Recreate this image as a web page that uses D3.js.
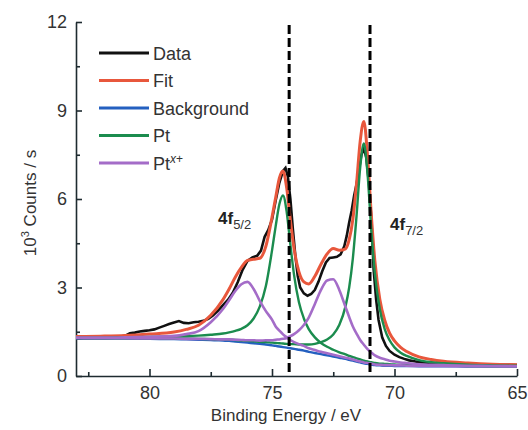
<!DOCTYPE html>
<html>
<head>
<meta charset="utf-8">
<script src="https://cdn.jsdelivr.net/npm/d3@7"></script>
<style>
  body { margin: 0; background: #fff; overflow: hidden; }
  text { font-family: "Liberation Sans", Arial, sans-serif; fill: #333; }
</style>
</head>
<body>
<script>
// Pt 4f XPS spectrum with fitted components

const margin = {top: 22, right: 11, bottom: 54, left: 76};
const outerWidth = 528;
const outerHeight = 430;

// binding energy grid (eV) shared by the fit and its components
const energy = [83, 82, 81, 80, 79, 78.5, 78, 77.5, 77, 76.75, 76.5, 76.25, 76, 75.75, 75.5, 75.25, 75,
  74.85, 74.7, 74.55, 74.4, 74.25, 74.1, 73.9, 73.7, 73.5, 73.25, 73, 72.75, 72.5, 72.25, 72,
  71.85, 71.7, 71.55, 71.4, 71.25, 71.1, 70.95, 70.8, 70.6, 70.4, 70.2, 70, 69.75, 69.5, 69,
  68.5, 68, 67, 66, 65];

// 10^3 counts/s
const background = [1.28, 1.27, 1.27, 1.26, 1.25, 1.24, 1.23, 1.22, 1.20, 1.19, 1.17, 1.15, 1.13, 1.11, 1.09, 1.07, 1.04,
  1.02, 1.00, 0.98, 0.96, 0.94, 0.92, 0.89, 0.86, 0.82, 0.78, 0.74, 0.70, 0.66, 0.62, 0.58,
  0.55, 0.52, 0.49, 0.46, 0.43, 0.41, 0.39, 0.37, 0.36, 0.35, 0.35, 0.34, 0.34, 0.34, 0.33,
  0.33, 0.33, 0.32, 0.32, 0.32];

const pt72 = [1.29, 1.28, 1.28, 1.28, 1.27, 1.27, 1.26, 1.25, 1.24, 1.23, 1.22, 1.20, 1.19, 1.18, 1.16, 1.15, 1.13,
  1.12, 1.11, 1.10, 1.09, 1.08, 1.08, 1.07, 1.07, 1.07, 1.09, 1.15, 1.24, 1.41, 1.74, 2.36,
  3.00, 3.99, 5.42, 7.07, 7.88, 6.85, 4.98, 3.47, 2.26, 1.59, 1.21, 0.97, 0.79, 0.68, 0.54,
  0.47, 0.43, 0.38, 0.36, 0.35];

const pt52 = [1.30, 1.30, 1.31, 1.32, 1.34, 1.35, 1.37, 1.40, 1.44, 1.48, 1.53, 1.60, 1.72, 1.95, 2.35, 3.05, 4.25,
  5.08, 5.82, 6.12, 5.56, 4.45, 3.43, 2.50, 1.95, 1.59, 1.31, 1.12, 0.99, 0.89, 0.80, 0.73,
  0.68, 0.64, 0.60, 0.56, 0.52, 0.49, 0.47, 0.44, 0.42, 0.41, 0.40, 0.39, 0.38, 0.38, 0.36,
  0.36, 0.35, 0.34, 0.33, 0.33];

const ptx72 = [1.29, 1.28, 1.28, 1.27, 1.27, 1.26, 1.26, 1.25, 1.24, 1.24, 1.23, 1.22, 1.21, 1.21, 1.20, 1.21, 1.21,
  1.23, 1.24, 1.26, 1.29, 1.35, 1.42, 1.55, 1.73, 1.98, 2.44, 2.92, 3.24, 3.28, 2.91, 2.34,
  2.00, 1.68, 1.44, 1.22, 1.06, 0.91, 0.80, 0.70, 0.62, 0.57, 0.52, 0.49, 0.46, 0.44, 0.40,
  0.38, 0.37, 0.35, 0.34, 0.33];

const ptx52 = [1.30, 1.30, 1.31, 1.33, 1.36, 1.42, 1.52, 1.82, 2.27, 2.57, 2.88, 3.11, 3.19, 2.95, 2.55, 2.20, 1.91,
  1.68, 1.54, 1.41, 1.31, 1.22, 1.15, 1.08, 1.02, 0.94, 0.88, 0.82, 0.77, 0.72, 0.67, 0.62,
  0.59, 0.56, 0.52, 0.49, 0.46, 0.44, 0.42, 0.39, 0.38, 0.37, 0.37, 0.36, 0.36, 0.35, 0.34,
  0.34, 0.34, 0.33, 0.33, 0.33];

const fit = [1.34, 1.35, 1.37, 1.42, 1.49, 1.58, 1.72, 2.06, 2.59, 2.95, 3.35, 3.68, 3.92, 3.96, 3.99, 4.40, 5.38,
  6.05, 6.71, 6.95, 6.37, 5.28, 4.32, 3.53, 3.19, 3.12, 3.38, 3.79, 4.14, 4.32, 4.26, 4.31,
  4.62, 5.31, 6.51, 7.96, 8.63, 7.46, 5.50, 3.89, 2.60, 1.89, 1.45, 1.19, 0.97, 0.83, 0.65,
  0.56, 0.50, 0.44, 0.40, 0.38];

// measured spectrum
const dataEnergy = [83.0, 82.6, 82.2, 81.8, 81.4, 81.0, 80.8, 80.6, 80.4, 80.2, 80.0, 79.8, 79.6, 79.4, 79.2,
  79.0, 78.8, 78.6, 78.4, 78.2, 78.0, 77.8, 77.6, 77.4, 77.2, 77.0, 76.8, 76.6, 76.4, 76.2,
  76.0, 75.8, 75.6, 75.45, 75.3, 75.15, 75.0, 74.85, 74.7, 74.55, 74.45, 74.35, 74.25, 74.15,
  74.05, 73.95, 73.85, 73.7, 73.55, 73.4, 73.25, 73.1, 72.95, 72.8, 72.65, 72.5, 72.35, 72.2,
  72.05, 71.95, 71.85, 71.75, 71.65, 71.55, 71.45, 71.35, 71.25, 71.15, 71.05, 70.95, 70.85,
  70.75, 70.65, 70.5, 70.35, 70.2, 70.0, 69.8, 69.6, 69.4, 69.2, 69.0, 68.6, 68.2, 67.8, 67.4,
  67.0, 66.5, 66.0, 65.5, 65.0];
const dataCounts = [1.27, 1.27, 1.28, 1.28, 1.30, 1.36, 1.45, 1.47, 1.51, 1.53, 1.55, 1.58, 1.64, 1.70, 1.76,
  1.81, 1.86, 1.80, 1.79, 1.82, 1.84, 1.87, 1.94, 2.06, 2.22, 2.40, 2.58, 2.82, 3.18, 3.60,
  3.90, 4.02, 4.08, 4.25, 4.72, 4.95, 5.30, 5.95, 6.55, 6.95, 7.05, 6.75, 6.00, 5.00,
  4.10, 3.40, 3.00, 2.80, 2.72, 2.78, 2.92, 3.20, 3.55, 3.85, 4.00, 4.02, 4.04, 4.12,
  4.40, 4.75, 5.20, 5.60, 6.10, 6.50, 7.00, 7.50, 7.72, 7.40, 6.60, 5.40, 3.60,
  2.60, 1.90, 1.30, 1.02, 0.85, 0.72, 0.64, 0.58, 0.53, 0.50, 0.47, 0.45, 0.43, 0.42, 0.41,
  0.40, 0.39, 0.38, 0.38, 0.37];

const xTicks = [80, 75, 70, 65];
const xMinor = [82.5, 77.5, 72.5, 67.5];
const yTicks = [0, 3, 6, 9, 12];
const yMinor = [1.5, 4.5, 7.5, 10.5];
const peakPositions = [74.3, 71.0];
const legendNames = ["Data", "Fit", "Background", "Pt", "Pt"];
const colors = {data: "#111111", fit: "#e8573c", bg: "#2460c0", pt: "#1b8c4e", ptx: "#a46cc8"};

const innerWidth = outerWidth - margin.left - margin.right;
const innerHeight = outerHeight - margin.top - margin.bottom;

const svg = d3.select("body").append("svg")
  .attr("width", outerWidth)
  .attr("height", outerHeight)
  .style("display", "block");

const g = svg.append("g")
  .attr("transform", "translate(" + margin.left + "," + margin.top + ")");

const x = d3.scaleLinear().domain([83, 65]).range([0, innerWidth]);
const y = d3.scaleLinear().domain([0, 12]).range([innerHeight, 0]);

// axes (ticks point inward)
g.append("g")
  .attr("transform", "translate(0," + innerHeight + ")")
  .call(d3.axisBottom(x).tickValues(xTicks).tickSize(-7).tickSizeOuter(0).tickPadding(10));
g.append("g")
  .attr("transform", "translate(0," + innerHeight + ")")
  .call(d3.axisBottom(x).tickValues(xMinor).tickSize(-4).tickFormat(""))
  .select(".domain").remove();

g.append("g")
  .call(d3.axisLeft(y).tickValues(yTicks).tickSize(-6).tickSizeOuter(0).tickPadding(9));
g.append("g")
  .call(d3.axisLeft(y).tickValues(yMinor).tickSize(-4).tickFormat(""))
  .select(".domain").remove();

g.selectAll(".domain, .tick line").attr("stroke", "#1e2b30").attr("stroke-width", 1.6);
g.selectAll(".tick text").style("font-size", "18px").attr("fill", "#333");

// axis titles
svg.append("text")
  .attr("x", 286).attr("y", 421)
  .attr("text-anchor", "middle")
  .style("font-size", "17px")
  .text("Binding Energy / eV");

const yTitle = svg.append("text")
  .attr("transform", "translate(36,203) rotate(-90)")
  .attr("text-anchor", "middle")
  .style("font-size", "17px");
yTitle.append("tspan").text("10");
yTitle.append("tspan").attr("dy", -7).style("font-size", "11px").text("3");
yTitle.append("tspan").attr("dy", 7).text(" Counts / s");

// curves
const smooth = vals => d3.line()
  .x((d, i) => x(energy[i]))
  .y(d => y(d))
  .curve(d3.curveMonotoneX)(vals);

const dataLine = d3.line()
  .x((d, i) => x(dataEnergy[i]))
  .y(d => y(d));

g.append("path").attr("d", dataLine(dataCounts))
  .attr("fill", "none").attr("stroke", colors.data).attr("stroke-width", 2.6);

g.append("path").attr("d", smooth(fit))
  .attr("fill", "none").attr("stroke", colors.fit).attr("stroke-width", 3);

g.append("path").attr("d", smooth(background))
  .attr("fill", "none").attr("stroke", colors.bg).attr("stroke-width", 2.4);

[pt72, pt52].forEach(vals => {
  g.append("path").attr("d", smooth(vals))
    .attr("fill", "none").attr("stroke", colors.pt).attr("stroke-width", 2.4);
});

[ptx72, ptx52].forEach(vals => {
  g.append("path").attr("d", smooth(vals))
    .attr("fill", "none").attr("stroke", colors.ptx).attr("stroke-width", 2.6);
});

// dashed peak markers
g.selectAll(".peak-line")
  .data(peakPositions)
  .join("line")
  .attr("class", "peak-line")
  .attr("x1", d => x(d)).attr("x2", d => x(d))
  .attr("y1", 3).attr("y2", innerHeight - 2)
  .attr("stroke", "#000")
  .attr("stroke-width", 3)
  .attr("stroke-dasharray", "9,4");

// peak labels
const lab1 = svg.append("text").attr("x", 218).attr("y", 224).style("font-size", "17px");
lab1.append("tspan").style("font-weight", "bold").attr("fill", "#222").text("4f");
lab1.append("tspan").attr("dy", 5).style("font-size", "13px").text("5/2");

const lab2 = svg.append("text").attr("x", 390).attr("y", 230).style("font-size", "17px");
lab2.append("tspan").style("font-weight", "bold").attr("fill", "#222").text("4f");
lab2.append("tspan").attr("dy", 5).style("font-size", "13px").text("7/2");

// legend
const legendColors = [colors.data, colors.fit, colors.bg, colors.pt, colors.ptx];
const legend = svg.append("g");
legendNames.forEach((name, i) => {
  const ly = 53 + i * 27.5;
  legend.append("line")
    .attr("x1", 99).attr("x2", 149)
    .attr("y1", ly).attr("y2", ly)
    .attr("stroke", legendColors[i]).attr("stroke-width", 3);
  const t = legend.append("text")
    .attr("x", 153).attr("y", ly + 6.5)
    .style("font-size", "18px")
    .text(name);
  if (i === 4) {
    t.append("tspan").attr("dy", -7).style("font-size", "12px").style("font-style", "italic").text("x");
    t.append("tspan").style("font-size", "12px").text("+");
  }
});
</script>
</body>
</html>
